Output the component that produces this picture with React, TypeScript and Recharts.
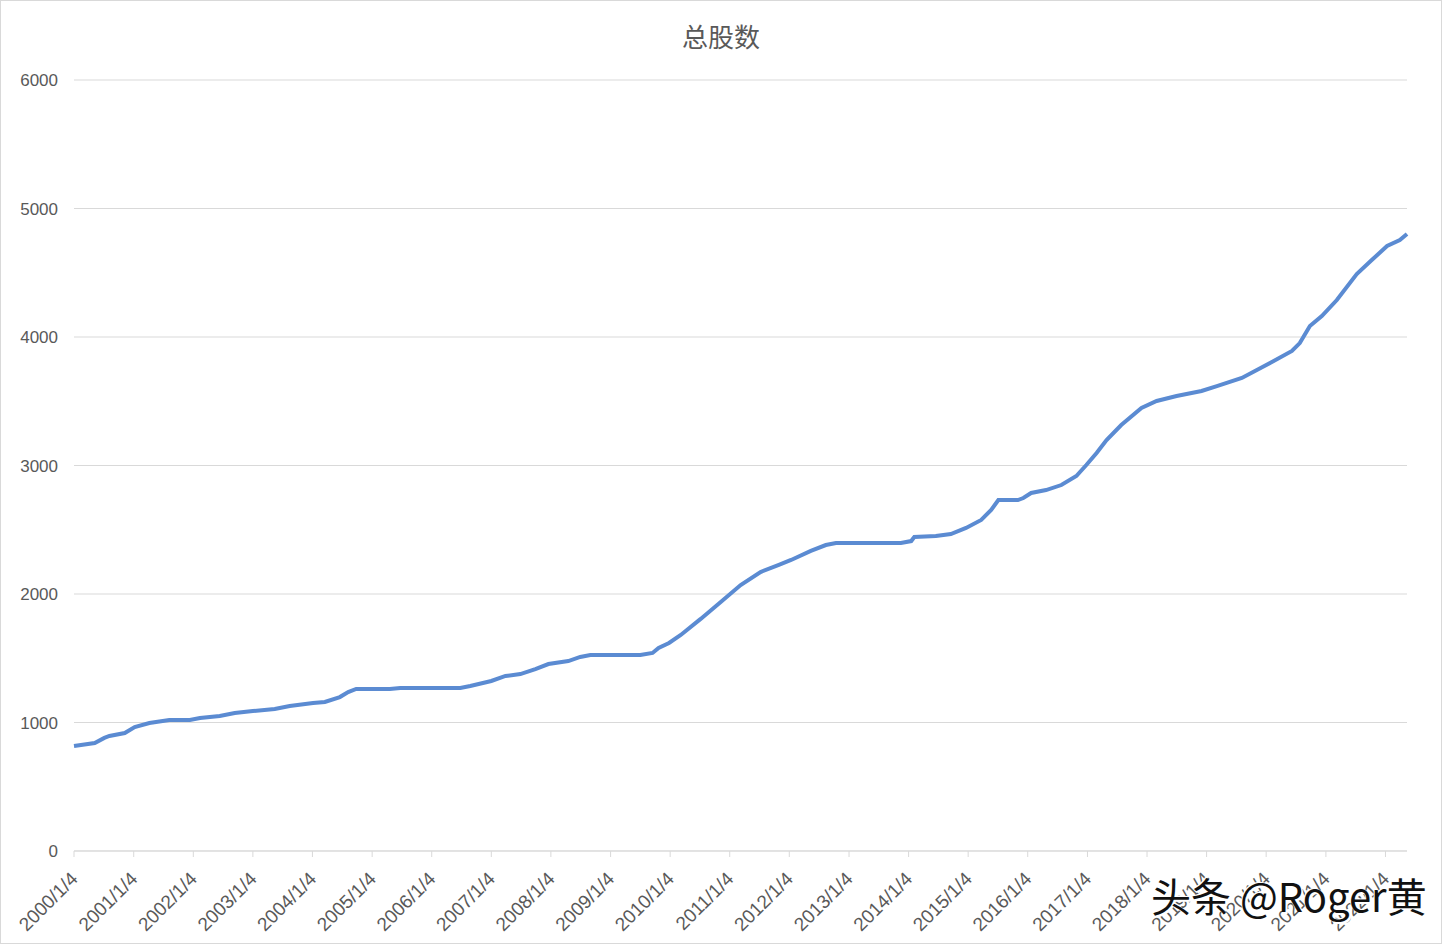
import React from 'react';
import { LineChart, Line, XAxis, YAxis, CartesianGrid } from 'recharts';

// 总股数
const dates = [
  '2000/1/4', '2000/5/10', '2000/7/8', '2000/8/8', '2000/11/10',
  '2001/1/10', '2001/4/10', '2001/8/10', '2001/12/14', '2002/2/14',
  '2002/6/15', '2002/9/15', '2003/1/4', '2003/5/18', '2003/8/18',
  '2004/1/8', '2004/3/20', '2004/6/20', '2004/8/10', '2004/9/28',
  '2005/4/22', '2005/6/25', '2006/6/28', '2006/8/28', '2007/1/4',
  '2007/4/1', '2007/7/1', '2007/10/1', '2007/12/20', '2008/4/20',
  '2008/7/2', '2008/9/2', '2009/7/5', '2009/9/18', '2009/10/25',
  '2009/12/28', '2010/3/10', '2010/7/10', '2010/11/10', '2011/3/12',
  '2011/7/12', '2011/11/1', '2012/1/15', '2012/5/15', '2012/8/15',
  '2012/10/16', '2013/11/18', '2014/1/20', '2014/2/8', '2014/6/20',
  '2014/9/20', '2014/12/22', '2015/3/25', '2015/5/25', '2015/7/8',
  '2015/11/5', '2015/12/8', '2016/1/25', '2016/4/25', '2016/7/28',
  '2016/10/28', '2016/12/28', '2017/3/1', '2017/5/1', '2017/7/30',
  '2017/12/1', '2018/3/4', '2018/7/4', '2018/12/4', '2019/3/8',
  '2019/8/8', '2019/11/8', '2020/2/8', '2020/6/10', '2020/7/28',
  '2020/9/28', '2020/12/10', '2021/3/12', '2021/7/12', '2021/10/12',
  '2022/1/14', '2022/4/2', '2022/5/16',
];

const totals = [
  817, 840, 880, 895, 918,
  965, 996, 1019, 1019, 1035,
  1050, 1074, 1089, 1105, 1128,
  1151, 1160, 1198, 1237, 1261,
  1261, 1268, 1268, 1284, 1323,
  1362, 1377, 1416, 1455, 1478,
  1510, 1525, 1525, 1541, 1580,
  1619, 1681, 1806, 1938, 2070,
  2171, 2226, 2265, 2335, 2381,
  2397, 2397, 2412, 2444, 2452,
  2467, 2514, 2576, 2654, 2731,
  2731, 2747, 2786, 2809, 2848,
  2918, 3004, 3097, 3198, 3315,
  3447, 3502, 3541, 3580, 3618,
  3681, 3743, 3805, 3891, 3953,
  4085, 4163, 4288, 4490, 4599,
  4708, 4755, 4802,
];

const tickYears = [
  2000, 2001, 2002, 2003, 2004, 2005, 2006, 2007, 2008, 2009, 2010,
  2011, 2012, 2013, 2014, 2015, 2016, 2017, 2018, 2019, 2020, 2021, 2022,
];
const yTicks = [0, 1000, 2000, 3000, 4000, 5000, 6000];

const toTime = (s: string) => {
  const [y, m, d] = s.split('/').map(Number);
  return Date.UTC(y, m - 1, d);
};

const data = dates.map((d, i) => ({ t: toTime(d), v: totals[i] }));
const xTicks = tickYears.map((y) => Date.UTC(y, 0, 4));

const textColor = '#595959';
const gridColor = '#d9d9d9';

function DateTick({ x, y, payload }: any) {
  const dt = new Date(payload.value);
  const label = `${dt.getUTCFullYear()}/${dt.getUTCMonth() + 1}/${dt.getUTCDate()}`;
  const tx = x + 5;
  const ty = y + 21;
  return (
    <text
      x={tx}
      y={ty}
      transform={`rotate(-45, ${tx}, ${ty})`}
      textAnchor="end"
      fill={textColor}
      fontSize={19}
      fontFamily="'Liberation Sans', Arial, sans-serif"
    >
      {label}
    </text>
  );
}

export default function App() {
  return (
    <div
      style={{
        position: 'absolute',
        left: 0,
        top: 0,
        width: 1440,
        height: 942,
        border: '1px solid #d9d9d9',
        background: '#fff',
      }}
    >
      <div
        style={{
          position: 'absolute',
          left: 0,
          right: 0,
          top: 18,
          textAlign: 'center',
          fontSize: 26,
          color: textColor,
          fontFamily: "'Noto Sans CJK SC', sans-serif",
          lineHeight: '34px',
        }}
      >
        总股数
      </div>
      <LineChart
        width={1440}
        height={942}
        data={data}
        margin={{ top: 79, right: 34, bottom: 0, left: 0 }}
      >
        <CartesianGrid vertical={false} stroke={gridColor} strokeWidth={1} />
        <XAxis
          dataKey="t"
          type="number"
          scale="time"
          domain={[toTime(dates[0]), toTime(dates[dates.length - 1])]}
          ticks={xTicks}
          interval={0}
          height={92}
          axisLine={{ stroke: gridColor }}
          tickLine={{ stroke: gridColor }}
          tickSize={6}
          tick={<DateTick />}
        />
        <YAxis
          domain={[0, 6000]}
          ticks={yTicks}
          width={73}
          axisLine={false}
          tickLine={false}
          tickSize={0}
          tickMargin={16}
          tick={{ fill: textColor, fontSize: 17, fontFamily: "'Liberation Sans', Arial, sans-serif" }}
        />
        <Line
          type="linear"
          dataKey="v"
          stroke="#5b8bd2"
          strokeWidth={4}
          dot={false}
          isAnimationActive={false}
        />
      </LineChart>
      <div
        style={{
          position: 'absolute',
          left: 1150,
          top: 868,
          fontSize: 40,
          color: '#111',
          fontFamily: "'Noto Sans CJK SC', sans-serif",
          lineHeight: '52px',
          textShadow: '2px 2px 0 #fff, -1px -1px 0 #fff',
          whiteSpace: 'nowrap',
        }}
      >
        头条 @Roger黄
      </div>
    </div>
  );
}
